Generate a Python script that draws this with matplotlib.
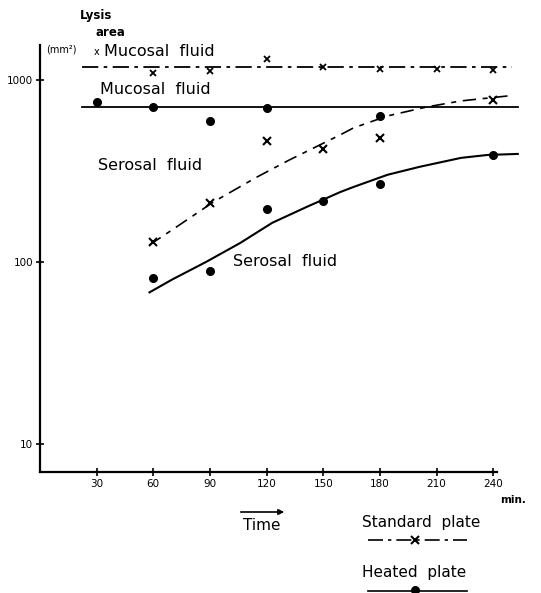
import matplotlib
matplotlib.use('Agg')
import matplotlib.pyplot as plt

# Lysis area (mm2) against time (min)
times = [30, 60, 90, 120, 150, 180, 210, 240]

# standard plate (x)
std_muc_t = [60, 90, 120, 150, 180, 210, 240]
std_muc_v = [1093, 1121, 1304, 1179, 1149, 1149, 1135]
std_muc_level = 1179

std_ser_t = [60, 90, 120, 150, 180, 240]
std_ser_v = [129, 211, 462, 418, 480, 777]
std_ser_curve_t = [58, 70, 92, 115, 132, 159, 166, 184, 205, 223, 248]
std_ser_curve_v = [124, 150, 214, 293, 363, 499, 545, 634, 711, 767, 817]

# heated plate (dots)
heat_muc_t = [30, 60, 90, 120]
heat_muc_v = [757, 711, 595, 702]
heat_muc_level = 711

heat_ser_t = [60, 90, 120, 150, 180, 240]
heat_ser_v = [82, 89, 196, 216, 268, 387]
heat_ser_curve_t = [58, 70, 88, 106, 123, 141, 159, 166, 184, 201, 223, 237, 253]
heat_ser_curve_v = [68, 80, 100, 127, 164, 200, 242, 258, 301, 333, 373, 387, 392]

# stray dot on the dashed curve at 180 min
extra_t = [180]
extra_v = [634]

W, H = 541, 593
fig = plt.figure(figsize=(W / 100, H / 100), dpi=100)


def fx(x):
    return x / W


def fy(y):
    return 1 - y / H


ax = fig.add_axes([fx(40), fy(472), fx(497) - fx(40), fy(45) - fy(472)])
ax.set_yscale('log')
ax.set_xlim(0, 242)
ax.set_ylim(7.0, 1556)

for s in ['top', 'right']:
    ax.spines[s].set_visible(False)
for s in ['left', 'bottom']:
    ax.spines[s].set_linewidth(1.6)

ax.set_xticks(times)
ax.set_xticklabels([str(t) for t in times], fontsize=7.5)
ax.set_yticks([10, 100, 1000])
ax.set_yticklabels(['10', '100', '1000'], fontsize=7.5)
ax.minorticks_off()
ax.tick_params(direction='inout', length=6, width=1.2, pad=2)

dashdot = (0, (9, 3, 2, 3))
dashed = (0, (8, 4, 3, 4))

# mucosal levels
ax.plot([22, 250], [std_muc_level, std_muc_level], color='black', lw=1.3,
        linestyle=dashdot, clip_on=False)
ax.plot([22, 253], [heat_muc_level, heat_muc_level], color='black', lw=1.3,
        clip_on=False)

# serosal curves
ax.plot(std_ser_curve_t, std_ser_curve_v, color='black', lw=1.2,
        linestyle=dashed, clip_on=False)
ax.plot(heat_ser_curve_t, heat_ser_curve_v, color='black', lw=1.5,
        clip_on=False)

# points
ax.plot(std_muc_t, std_muc_v, 'x', color='black', ms=5, mew=1.3, clip_on=False)
ax.plot(std_ser_t, std_ser_v, 'x', color='black', ms=6, mew=1.5, clip_on=False)
ax.plot(heat_muc_t, heat_muc_v, 'o', color='black', ms=5.5, clip_on=False)
ax.plot(heat_ser_t, heat_ser_v, 'o', color='black', ms=5.5, clip_on=False)
ax.plot(extra_t, extra_v, 'o', color='black', ms=5.5, clip_on=False)

# labels
fig.text(fx(80), fy(15), 'Lysis', fontsize=8.5, fontweight='bold', va='center')
fig.text(fx(96), fy(33), 'area', fontsize=8.5, fontweight='bold', va='center')
fig.text(fx(46), fy(50), '(mm²)', fontsize=7, va='center')
fig.text(fx(94), fy(52), 'x', fontsize=7, va='center')
fig.text(fx(104), fy(52), 'Mucosal  fluid', fontsize=11.5, va='center')
fig.text(fx(100), fy(90), 'Mucosal  fluid', fontsize=11.5, va='center')
fig.text(fx(98), fy(166), 'Serosal  fluid', fontsize=11.5, va='center')
fig.text(fx(233), fy(261), 'Serosal  fluid', fontsize=11.5, va='center')
fig.text(fx(500), fy(500), 'min.', fontsize=7.5, fontweight='bold', va='center')

# time arrow
fig.patches.append(matplotlib.patches.FancyArrowPatch(
    (fx(238), fy(512)), (fx(287), fy(512)), transform=fig.transFigure,
    arrowstyle='-|>', mutation_scale=8, lw=1.2, color='black'))
fig.text(fx(243), fy(525), 'Time', fontsize=11, va='center')

# legend block
fig.text(fx(362), fy(523), 'Standard  plate', fontsize=11, va='center')
fig.lines.append(matplotlib.lines.Line2D([fx(368), fx(467)], [fy(540), fy(540)],
                                         transform=fig.transFigure, color='black',
                                         lw=1.2, linestyle=dashdot))
fig.lines.append(matplotlib.lines.Line2D([fx(415)], [fy(540)], transform=fig.transFigure,
                                         marker='x', ms=6, mew=1.5, color='black'))
fig.text(fx(362), fy(573), 'Heated  plate', fontsize=11, va='center')
fig.lines.append(matplotlib.lines.Line2D([fx(368), fx(467)], [fy(591), fy(591)],
                                         transform=fig.transFigure, color='black', lw=1.2))
fig.lines.append(matplotlib.lines.Line2D([fx(415)], [fy(590)], transform=fig.transFigure,
                                         marker='o', ms=5.5, color='black'))

fig.savefig('out.png', dpi=100)
